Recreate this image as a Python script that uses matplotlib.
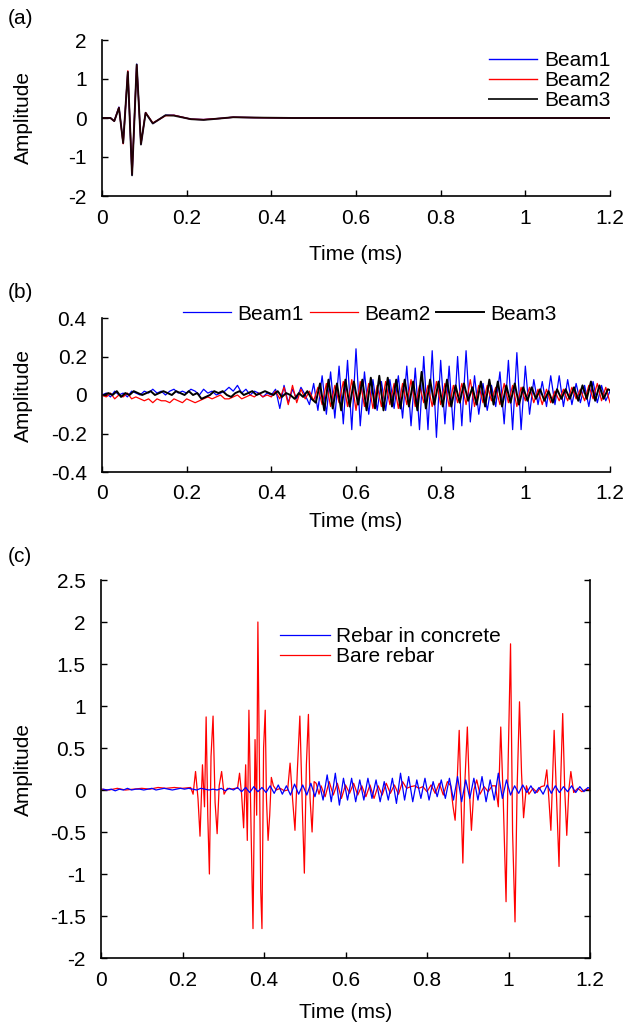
import numpy as np
import matplotlib
matplotlib.use('Agg')
import matplotlib.pyplot as plt

# ---------------- data: panel (a) ----------------
t_a = [0, 0.02, 0.029, 0.040, 0.050, 0.061, 0.071, 0.082, 0.092, 0.103, 0.120, 0.150,
       0.170, 0.210, 0.240, 0.280, 0.310, 0.360, 0.450, 0.600, 0.800, 1.000, 1.200]
beam1_a = [0, 0, -0.08, 0.28, -0.65, 1.19, -1.46, 1.38, -0.67, 0.14, -0.14, 0.07,
           0.07, -0.03, -0.04, -0.01, 0.02, 0.01, 0, 0, 0, 0, 0]
beam2_a = [0, 0, -0.08, 0.27, -0.66, 1.21, -1.44, 1.36, -0.66, 0.14, -0.13, 0.06,
           0.07, -0.03, -0.04, -0.01, 0.02, 0.01, 0, 0, 0, 0, 0]
beam3_a = [0, 0, -0.08, 0.26, -0.64, 1.18, -1.47, 1.37, -0.68, 0.13, -0.14, 0.07,
           0.06, -0.03, -0.05, -0.01, 0.02, 0.01, 0, 0, 0, 0, 0]

# ---------------- data: panel (b) (values read every 0.01 ms) ----------------
beam1_b = [0.00, 0.01, -0.01, 0.02, 0.00, 0.01, -0.01, 0.02, 0.01, 0.00,
           0.02, 0.01, 0.03, 0.01, 0.02, 0.00, 0.02, 0.03, 0.01, 0.02,
           0.01, 0.03, 0.02, 0.00, 0.03, 0.01, 0.02, 0.00, 0.01, 0.02,
           0.04, 0.02, 0.05, 0.01, 0.03, 0.00, 0.02, 0.01, -0.01, 0.01,
           0.00, 0.03, -0.07, 0.05, -0.04, 0.03, -0.02, 0.04, 0.00, -0.05,
           0.06, -0.08, 0.10, -0.10, 0.12, -0.12, 0.15, -0.15, 0.18, -0.18,
           0.24, -0.16, 0.12, -0.10, 0.08, -0.08, 0.07, -0.08, 0.08, -0.07,
           0.10, -0.12, 0.15, -0.16, 0.14, -0.18, 0.20, -0.18, 0.23, -0.22,
           0.18, -0.15, 0.15, -0.18, 0.20, -0.16, 0.23, -0.14, 0.10, -0.10,
           0.06, -0.08, 0.05, -0.06, 0.12, -0.15, 0.18, -0.18, 0.22, -0.18,
           0.15, -0.10, 0.08, -0.05, 0.07, -0.06, 0.10, -0.05, 0.10, -0.06,
           0.08, -0.05, 0.06, -0.04, 0.05, -0.06, 0.07, -0.04, 0.05, -0.03,
           0.02]
beam2_b = [0.00, -0.01, 0.01, -0.02, 0.00, -0.01, 0.01, -0.02, -0.01, -0.02,
           -0.03, -0.02, -0.04, -0.02, -0.03, -0.03, -0.04, -0.02, -0.03, -0.04,
           -0.02, -0.03, -0.04, -0.03, -0.02, -0.01, -0.02, -0.01, 0.00, -0.02,
           -0.02, -0.01, 0.00, -0.02, -0.01, 0.00, -0.01, 0.01, -0.01, 0.00,
           -0.01, 0.02, -0.02, 0.04, -0.05, 0.05, -0.04, 0.03, -0.02, 0.02,
           -0.03, 0.04, -0.05, 0.06, -0.06, 0.05, -0.04, 0.07, -0.06, 0.08,
           -0.08, 0.07, -0.06, 0.06, -0.07, 0.05, -0.06, 0.07, -0.05, 0.06,
           -0.07, 0.06, -0.05, 0.08, -0.06, 0.05, -0.04, 0.05, -0.06, 0.07,
           -0.05, 0.06, -0.06, 0.05, -0.04, 0.06, -0.05, 0.08, -0.06, 0.05,
           -0.04, 0.05, -0.03, 0.04, -0.05, 0.06, -0.04, 0.05, -0.06, 0.04,
           -0.03, 0.04, -0.04, 0.03, -0.05, 0.03, -0.04, 0.02, -0.03, 0.03,
           -0.03, 0.04, -0.02, 0.03, -0.03, 0.05, -0.02, 0.06, -0.03, 0.04,
           -0.04]
beam3_b = [0.00, 0.01, 0.00, 0.02, -0.01, 0.01, 0.00, 0.02, 0.01, 0.00,
           0.01, 0.02, 0.00, 0.01, 0.02, 0.01, 0.00, 0.02, 0.01, 0.00,
           0.02, 0.00, 0.01, -0.02, -0.01, 0.00, 0.02, 0.01, 0.02, 0.00,
           -0.01, 0.01, 0.02, 0.00, 0.01, 0.02, 0.00, 0.01, 0.02, 0.01,
           0.00, 0.02, -0.01, 0.01, 0.00, -0.02, 0.01, -0.01, 0.02, -0.02,
           -0.04, 0.06, -0.08, 0.08, -0.07, 0.06, -0.08, 0.08, -0.06, 0.07,
           -0.05, 0.08, -0.08, 0.09, -0.07, 0.10, -0.08, 0.09, -0.06, 0.08,
           -0.07, 0.08, -0.06, 0.07, -0.08, 0.12, -0.07, 0.08, -0.05, 0.07,
           -0.06, 0.08, -0.06, 0.05, -0.04, 0.06, -0.03, 0.04, -0.05, 0.07,
           -0.06, 0.08, -0.05, 0.07, -0.06, 0.05, -0.04, 0.06, -0.05, 0.04,
           -0.03, 0.04, -0.02, 0.03, -0.03, 0.02, -0.04, 0.03, -0.02, 0.03,
           -0.02, 0.04, -0.03, 0.05, -0.02, 0.07, -0.03, 0.05, -0.02, 0.03,
           0.02]

# ---------------- data: panel (c) ----------------
concrete_c = [0.01, 0.00, 0.01, -0.01, 0.01, 0.00, 0.02, 0.00, 0.01, 0.01,
              0.00, 0.01, 0.02, 0.00, 0.01, 0.02, 0.01, 0.00, 0.01, 0.02,
              0.01, 0.02, 0.01, 0.00, 0.02, 0.01, 0.00, 0.01, 0.00, 0.02,
              -0.01, 0.02, 0.00, 0.03, -0.02, 0.03, -0.03, 0.04, -0.02, 0.03,
              -0.03, 0.05, -0.04, 0.06, -0.05, 0.05, -0.06, 0.07, -0.05, 0.06,
              -0.06, 0.08, -0.08, 0.10, -0.12, 0.18, -0.14, 0.20, -0.18, 0.14,
              -0.12, 0.14, -0.14, 0.12, -0.12, 0.14, -0.10, 0.12, -0.14, 0.10,
              -0.12, 0.14, -0.16, 0.20, -0.12, 0.16, -0.14, 0.12, -0.10, 0.14,
              -0.12, 0.10, -0.08, 0.12, -0.10, 0.14, -0.12, 0.16, -0.14, 0.12,
              -0.10, 0.14, -0.12, 0.16, -0.14, 0.12, -0.12, 0.20, -0.10, 0.12,
              -0.06, 0.05, -0.04, 0.06, -0.03, 0.05, -0.04, 0.03, -0.05, 0.06,
              -0.04, 0.05, -0.03, 0.04, -0.02, 0.05, -0.03, 0.04, -0.02, 0.03,
              0.00]

bare_quiet_t = [0.00, 0.02, 0.04, 0.06, 0.08, 0.10, 0.12, 0.14, 0.16, 0.18, 0.20, 0.22]
bare_quiet_v = [0.01, 0.00, 0.02, 0.00, 0.01, 0.02, 0.01, 0.03, 0.02, 0.03, 0.02, 0.03]
bare_b1_t = [0.226, 0.232, 0.238, 0.243, 0.249, 0.254, 0.258, 0.262, 0.266, 0.270, 0.275,
             0.280, 0.285, 0.290, 0.296, 0.302, 0.31, 0.32, 0.33]
bare_b1_v = [-0.05, 0.22, -0.1, -0.55, 0.3, -0.2, 0.87, -0.3, -1.0, 0.4, 0.88,
             -0.15, -0.52, 0.05, 0.22, -0.05, 0.02, 0.01, 0.02]
bare_b2_t = [0.335, 0.340, 0.345, 0.350, 0.355, 0.359, 0.363, 0.368, 0.373, 0.378, 0.382,
             0.385, 0.389, 0.392, 0.395, 0.399, 0.403, 0.406, 0.410, 0.414, 0.418, 0.423,
             0.43, 0.44, 0.45]
bare_b2_v = [0.02, 0.2, -0.05, -0.45, 0.3, -0.6, 0.95, -0.4, -1.65, 0.6, -0.3,
             2.0, 0.2, -1.2, -1.65, 0.5, 0.95, -0.1, -0.6, -0.3, 0.15, 0.05,
             0.0, 0.02, -0.01]
bare_b3_t = [0.458, 0.464, 0.470, 0.476, 0.482, 0.488, 0.494, 0.499, 0.504, 0.509, 0.513,
             0.518, 0.523, 0.528, 0.535]
bare_b3_v = [0.0, 0.32, -0.1, -0.48, 0.25, 0.88, -0.2, -0.99, 0.3, 0.9, -0.1,
             -0.5, 0.1, 0.08, -0.05]
bare_mid_t = [0.54, 0.55, 0.56, 0.57, 0.58, 0.59, 0.60, 0.61, 0.62, 0.63, 0.64, 0.65,
              0.66, 0.67, 0.68, 0.69, 0.70, 0.71, 0.72, 0.73, 0.74, 0.75, 0.76, 0.77,
              0.78, 0.79, 0.80, 0.81, 0.82, 0.83, 0.84, 0.85]
bare_mid_v = [0.05, -0.08, 0.10, -0.06, 0.08, -0.10, 0.06, -0.04, 0.08, -0.06, 0.05, -0.08,
              0.06, -0.10, 0.05, -0.06, 0.08, -0.04, 0.06, -0.05, 0.10, 0.02, 0.04, 0.05,
              0.02, 0.04, -0.02, 0.06, -0.04, 0.08, -0.06, 0.10]
bare_b4_t = [0.858, 0.864, 0.869, 0.874, 0.879, 0.884, 0.888, 0.893, 0.899, 0.904, 0.909,
             0.915, 0.922, 0.93, 0.94, 0.95, 0.96]
bare_b4_v = [0.05, -0.2, -0.36, 0.1, 0.71, -0.2, -0.87, 0.1, 0.75, 0.0, -0.48,
             0.0, 0.12, -0.05, 0.04, -0.02, 0.05]
bare_b5_t = [0.968, 0.975, 0.981, 0.987, 0.994, 0.999, 1.005, 1.010, 1.016, 1.021, 1.027,
             1.032, 1.037, 1.044, 1.05, 1.06, 1.07, 1.08]
bare_b5_v = [0.05, -0.2, 0.75, -0.1, -1.33, 0.3, 1.74, -0.5, -1.57, 0.0, 1.05,
             0.2, -0.33, 0.05, -0.05, 0.02, -0.03, 0.04]
bare_b6_t = [1.088, 1.094, 1.099, 1.104, 1.108, 1.112, 1.118, 1.124, 1.128, 1.133, 1.138,
             1.143, 1.148, 1.153, 1.16, 1.17, 1.18, 1.19, 1.20]
bare_b6_v = [0.05, 0.24, -0.1, -0.48, 0.1, 0.71, -0.1, -0.91, 0.1, 0.91, 0.0,
             -0.54, 0.0, 0.22, -0.03, 0.02, -0.02, 0.01, 0.0]

x_ticks = [0, 0.2, 0.4, 0.6, 0.8, 1.0, 1.2]
y_ticks_a = [-2, -1, 0, 1, 2]
y_ticks_b = [-0.4, -0.2, 0, 0.2, 0.4]
y_ticks_c = [-2, -1.5, -1, -0.5, 0, 0.5, 1, 1.5, 2, 2.5]

# ---------------- style ----------------
plt.rcParams['font.family'] = ['Liberation Sans', 'DejaVu Sans']
plt.rcParams['axes.unicode_minus'] = False
FS = 15
BLUE, RED, BLACK = '#0000FF', '#FF0000', '#000000'

fig = plt.figure(figsize=(6.27, 10.29), dpi=100)


def px_axes(l, r, t, b):
    return fig.add_axes([l / 627, 1 - b / 1029, (r - l) / 627, (b - t) / 1029])


def fmt(v):
    return f'{v:g}'


def style(ax, yt, ylim, box, ylab_px, xlab_px, right=False):
    l, r, t, b = box
    ax.set_xlim(0, 1.2)
    ax.set_ylim(*ylim)
    ax.set_xticks(x_ticks)
    ax.set_xticklabels([fmt(v) for v in x_ticks])
    ax.set_yticks(yt)
    ax.set_yticklabels([fmt(v) for v in yt])
    ax.spines['top'].set_visible(False)
    ax.spines['right'].set_visible(right)
    for s in ax.spines.values():
        s.set_linewidth(1.2)
    ax.tick_params(direction='in', length=4, width=1, labelsize=FS,
                   right=right, labelright=False)
    ax.tick_params(axis='x', pad=9)
    ax.tick_params(axis='y', pad=11)
    ax.set_xlabel('Time (ms)', fontsize=FS)
    ax.set_ylabel('Amplitude', fontsize=FS)
    ax.xaxis.label.set_va('center')
    ax.yaxis.label.set_va('center')
    ax.yaxis.set_label_coords((ylab_px - l) / (r - l), 0.5)
    ax.xaxis.set_label_coords(0.5, (b - xlab_px) / (b - t))


# panel (a)
boxA = (102, 610, 40, 196)
axA = px_axes(*boxA)
axA.plot(t_a, beam1_a, color=BLUE, lw=1.0, label='Beam1')
axA.plot(t_a, beam2_a, color=RED, lw=1.0, label='Beam2')
axA.plot(t_a, beam3_a, color=BLACK, lw=1.4, label='Beam3', alpha=0.85)
style(axA, y_ticks_a, (-2, 2), boxA, 23, 254)
axA.legend(loc='upper left', bbox_to_anchor=((489 - 102) / 508, (196 - 51) / 156),
           frameon=False, fontsize=FS, handlelength=2.3, handletextpad=0.35,
           labelspacing=0.06, borderpad=0, borderaxespad=0)

# panel (b)
t_b = np.arange(len(beam1_b)) * 0.01
t_b3 = np.arange(len(beam3_b)) * 0.01 + 0.005
boxB = (102, 610, 318, 472)
axB = px_axes(*boxB)
axB.plot(t_b, beam1_b, color=BLUE, lw=0.9, label='Beam1')
axB.plot(t_b, beam2_b, color=RED, lw=0.9, label='Beam2')
axB.plot(t_b3, beam3_b, color=BLACK, lw=1.4, label='Beam3')
style(axB, y_ticks_b, (-0.4, 0.4), boxB, 23, 522)
axB.legend(loc='center left', bbox_to_anchor=((183 - 102) / 508, (472 - 314) / 154),
           ncol=3, frameon=False, fontsize=FS, handlelength=2.3, handletextpad=0.3,
           columnspacing=0.3, borderpad=0, borderaxespad=0)

# panel (c)
t_c = np.arange(len(concrete_c)) * 0.01 + 0.005
bare_t = bare_quiet_t + bare_b1_t + bare_b2_t + bare_b3_t + bare_mid_t + bare_b4_t + bare_b5_t + bare_b6_t
bare_v = bare_quiet_v + bare_b1_v + bare_b2_v + bare_b3_v + bare_mid_v + bare_b4_v + bare_b5_v + bare_b6_v
boxC = (101, 590, 580, 958)
axC = px_axes(*boxC)
l_bare, = axC.plot(bare_t, bare_v, color=RED, lw=0.9, label='Bare rebar')
l_conc, = axC.plot(t_c, concrete_c, color=BLUE, lw=0.9, label='Rebar in concrete')
style(axC, y_ticks_c, (-2, 2.5), boxC, 23, 1012, right=True)
axC.legend(handles=[l_conc, l_bare], loc='upper left',
           bbox_to_anchor=((280 - 101) / 489, (958 - 627) / 378),
           frameon=False, fontsize=FS, handlelength=2.4, handletextpad=0.3,
           labelspacing=0.06, borderpad=0, borderaxespad=0)

fig.text(8 / 627, 1 - 18 / 1029, '(a)', fontsize=FS, va='center', ha='left')
fig.text(8 / 627, 1 - 292 / 1029, '(b)', fontsize=FS, va='center', ha='left')
fig.text(8 / 627, 1 - 556 / 1029, '(c)', fontsize=FS, va='center', ha='left')

fig.savefig('out.png', dpi=100)
